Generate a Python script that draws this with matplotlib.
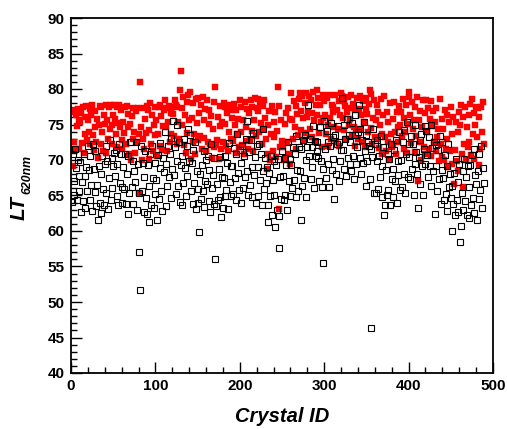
import numpy as np
import matplotlib
matplotlib.use("Agg")
import matplotlib.pyplot as plt
from matplotlib.ticker import MultipleLocator

# LT at 620 nm, red filled squares (upper series)
red_lt = [
    77.0, 69.2, 72.5, 71.4, 76.8, 76.3, 74.8, 77.2, 75.6, 71.5,
    75.3, 76.6, 72.4, 77.4, 71.0, 76.0, 73.7, 77.6, 72.8, 75.6,
    74.0, 77.2, 72.2, 76.3, 77.8, 73.5, 71.4, 76.9, 74.6, 72.6,
    75.8, 70.3, 74.9, 77.6, 72.3, 77.5, 73.9, 71.2, 76.3, 75.1,
    77.8, 71.0, 75.6, 73.0, 77.5, 74.3, 77.8, 75.0, 72.2, 76.4,
    77.8, 75.8, 73.6, 77.4, 71.9, 75.2, 77.7, 74.6, 77.0, 72.8,
    71.5, 75.3, 73.8, 77.4, 72.2, 77.6, 74.7, 76.5, 70.9, 75.1,
    70.0, 76.2, 72.9, 77.3, 74.0, 71.0, 76.9, 72.5, 77.3, 73.6,
    65.4, 81.0, 74.7, 70.0, 72.9, 77.3, 71.5, 75.8, 73.8, 77.6,
    77.0, 70.2, 74.2, 78.0, 72.2, 76.4, 71.2, 75.0, 77.4, 73.5,
    75.6, 70.5, 73.6, 77.4, 72.0, 77.8, 76.2, 71.4, 74.8, 77.0,
    78.5, 74.6, 77.3, 71.2, 75.4, 77.6, 72.6, 76.6, 73.7, 77.4,
    76.5, 73.4, 78.5, 77.8, 72.3, 77.4, 75.3, 73.0, 79.8, 82.6,
    77.3, 74.9, 78.9, 72.1, 76.4, 71.0, 78.2, 73.8, 79.2, 75.6,
    79.6, 70.2, 75.9, 72.6, 78.0, 73.6, 70.9, 78.6, 75.2, 72.8,
    78.7, 76.6, 73.4, 77.7, 71.6, 78.9, 75.6, 73.1, 77.2, 71.3,
    78.4, 72.6, 75.1, 77.0, 72.3, 76.2, 70.3, 74.4, 78.2, 71.9,
    80.3, 72.1, 72.8, 76.0, 70.1, 74.8, 77.6, 71.5, 75.4, 72.6,
    78.0, 75.1, 77.5, 72.0, 76.6, 71.2, 73.9, 77.8, 72.9, 77.1,
    75.9, 72.7, 77.9, 74.9, 71.0, 77.0, 73.7, 75.8, 71.9, 78.4,
    74.0, 77.4, 72.1, 75.6, 70.9, 78.1, 74.7, 72.7, 77.2, 71.6,
    76.6, 72.8, 78.4, 74.1, 77.5, 71.3, 75.6, 78.7, 73.4, 77.3,
    76.9, 78.6, 74.0, 78.0, 75.2, 72.2, 77.6, 74.4, 78.5, 75.9,
    72.9, 68.8, 75.0, 70.8, 76.9, 70.0, 73.7, 77.6, 71.2, 75.3,
    73.2, 76.8, 70.4, 74.1, 80.3, 77.6, 63.1, 71.9, 75.6, 72.7,
    71.9, 70.0, 75.1, 70.2, 76.6, 72.6, 77.3, 70.9, 75.8, 69.5,
    79.5, 75.6, 73.0, 78.3, 74.6, 77.6, 71.6, 76.5, 73.5, 78.6,
    79.5, 76.9, 74.2, 79.0, 75.9, 72.8, 78.0, 73.8, 79.4, 76.1,
    76.8, 79.0, 74.4, 78.4, 73.2, 76.6, 79.6, 75.6, 72.5, 77.8,
    79.9, 76.4, 78.8, 73.8, 77.7, 75.3, 71.8, 79.2, 75.9, 78.3,
    76.3, 73.6, 78.8, 74.9, 72.0, 79.2, 75.9, 73.0, 77.7, 76.8,
    77.4, 74.6, 79.1, 72.6, 77.1, 74.3, 78.3, 72.0, 76.3, 79.4,
    79.0, 75.9, 78.3, 74.2, 77.6, 73.0, 76.8, 78.9, 74.9, 77.3,
    75.8, 79.2, 73.5, 77.9, 74.7, 72.0, 77.0, 74.2, 78.7, 73.0,
    77.2, 74.3, 79.0, 76.4, 72.6, 78.3, 75.3, 71.8, 77.2, 78.8,
    76.5, 73.9, 77.9, 79.8, 74.5, 79.3, 72.3, 75.9, 78.4, 73.3,
    75.7, 77.8, 73.0, 76.8, 71.7, 75.0, 78.6, 73.6, 70.9, 76.3,
    79.0, 73.2, 71.2, 76.8, 72.6, 75.4, 70.0, 78.0, 73.6, 71.8,
    75.8, 72.3, 78.1, 74.0, 70.8, 76.8, 74.7, 72.6, 77.6, 75.0,
    76.8, 73.4, 78.6, 71.5, 75.9, 74.0, 77.8, 71.0, 75.1, 78.9,
    79.6, 76.4, 72.4, 78.1, 74.3, 75.6, 71.1, 77.4, 73.4, 78.9,
    67.0, 75.6, 72.6, 76.9, 70.0, 74.6, 78.5, 71.8, 76.6, 70.8,
    78.5, 73.9, 77.3, 71.6, 75.8, 70.6, 78.3, 74.8, 76.9, 72.6,
    75.3, 71.2, 77.3, 73.2, 74.3, 69.8, 78.6, 72.3, 75.8, 70.4,
    74.3, 70.0, 77.0, 71.6, 72.9, 76.4, 69.0, 75.3, 71.2, 77.4,
    73.6, 69.5, 76.0, 66.6, 71.4, 75.3, 69.8, 74.0, 68.5, 76.7,
    75.0, 77.8, 70.9, 66.2, 76.0, 72.3, 77.5, 70.0, 74.6, 71.8,
    76.3, 72.6, 77.9, 70.7, 78.6, 73.6, 76.6, 70.2, 74.9, 77.4,
    73.3, 77.3, 69.3, 76.1, 71.6, 77.5, 74.0, 78.2, 72.3,
]

# LT at 620 nm, black open squares (lower series)
black_lt = [
    64.1, 70.8, 67.0, 65.0, 71.6, 68.9, 64.3, 70.0, 67.7, 65.6,
    69.7, 62.7, 66.9, 64.2, 70.9, 67.8, 63.3, 69.0, 65.7, 72.0,
    68.6, 64.3, 70.6, 66.5, 62.8, 72.3, 68.7, 65.5, 71.3, 63.5,
    66.5, 61.5, 69.2, 63.9, 68.0, 62.6, 70.5, 65.9, 63.7, 69.4,
    72.0, 65.4, 69.9, 63.1, 67.4, 72.8, 64.4, 70.3, 66.0, 69.2,
    71.0, 67.7, 71.4, 64.9, 69.5, 63.6, 72.2, 66.8, 70.8, 66.2,
    64.0, 69.0, 65.9, 70.9, 63.8, 68.0, 62.4, 70.6, 65.3, 72.5,
    72.5, 66.2, 69.9, 63.8, 68.5, 66.9, 72.6, 62.9, 69.4, 65.4,
    57.0, 51.7, 72.0, 65.6, 69.6, 62.7, 67.6, 71.3, 64.6, 62.4,
    69.3, 61.2, 66.4, 70.8, 63.6, 72.0, 67.5, 63.3, 69.6, 65.2,
    67.2, 61.5, 70.7, 64.5, 68.9, 72.4, 65.6, 62.8, 70.3, 68.3,
    74.0, 63.5, 69.4, 66.4, 72.0, 67.6, 70.9, 64.6, 73.1, 68.8,
    75.5, 67.9, 71.9, 65.2, 69.9, 74.9, 66.4, 72.6, 64.1, 69.3,
    63.7, 70.5, 66.8, 72.9, 68.9, 64.9, 72.0, 67.7, 74.3, 69.9,
    73.5, 65.6, 69.6, 63.8, 71.4, 66.7, 72.6, 63.1, 68.5, 65.9,
    64.0, 59.9, 68.0, 64.5, 69.3, 65.6, 71.3, 63.4, 67.1, 70.0,
    66.6, 70.6, 64.2, 68.6, 62.7, 72.2, 66.0, 67.9, 63.8, 70.3,
    56.1, 63.5, 66.6, 64.3, 68.7, 64.8, 70.4, 62.0, 67.6, 63.2,
    67.5, 64.9, 70.5, 65.8, 69.6, 63.1, 72.4, 66.9, 64.9, 69.1,
    69.1, 65.2, 71.7, 67.4, 70.9, 64.4, 73.6, 68.1, 65.8, 71.4,
    69.6, 64.0, 72.0, 66.0, 70.6, 67.6, 72.9, 75.5, 68.4, 65.0,
    71.1, 66.5, 72.8, 64.8, 69.0, 73.8, 67.9, 70.4, 63.9, 72.0,
    69.0, 64.9, 72.2, 67.2, 70.8, 63.6, 74.3, 68.4, 65.9, 70.3,
    66.7, 69.0, 61.2, 63.6, 68.1, 64.9, 70.6, 62.2, 67.2, 69.8,
    65.0, 60.6, 69.3, 62.9, 70.2, 62.1, 57.6, 67.6, 64.5, 71.2,
    67.8, 64.3, 70.3, 65.0, 69.3, 62.9, 72.6, 67.0, 64.9, 70.1,
    69.3, 66.0, 71.9, 67.2, 70.9, 64.8, 73.4, 68.6, 65.6, 71.8,
    68.5, 61.5, 71.5, 66.4, 72.8, 67.4, 73.5, 64.8, 70.0, 71.9,
    77.8, 70.5, 73.0, 67.3, 71.9, 69.0, 74.8, 66.0, 72.7, 70.6,
    72.5, 71.3, 70.3, 67.0, 74.6, 69.8, 66.2, 55.5, 68.8, 75.5,
    71.5, 67.5, 74.1, 69.5, 72.5, 66.2, 72.0, 75.2, 68.6, 73.2,
    70.2, 64.5, 73.5, 68.0, 72.2, 74.8, 67.0, 72.5, 69.8, 71.4,
    78.8, 71.4, 74.9, 68.7, 72.9, 67.8, 75.8, 70.3, 73.5, 69.4,
    72.5, 68.5, 75.2, 70.6, 67.3, 73.5, 76.3, 69.4, 71.9, 74.0,
    77.7, 70.3, 74.3, 68.0, 72.8, 69.6, 75.4, 71.3, 66.4, 73.5,
    69.8, 72.6, 72.0, 67.3, 71.5, 46.3, 70.4, 74.4, 65.3, 72.2,
    65.3, 69.8, 72.8, 65.9, 70.6, 67.6, 73.4, 64.8, 69.2, 71.9,
    62.3, 63.6, 68.6, 65.0, 70.8, 65.8, 70.1, 63.7, 72.3, 67.3,
    68.8, 64.8, 71.4, 67.1, 72.8, 63.9, 69.8, 67.9, 74.0, 65.8,
    70.0, 66.2, 72.5, 68.0, 74.2, 65.3, 70.8, 75.4, 67.6, 72.3,
    70.4, 67.3, 73.4, 68.8, 72.3, 65.0, 74.9, 69.4, 71.1, 68.0,
    63.2, 70.4, 72.8, 66.6, 73.6, 69.2, 65.1, 71.6, 69.4, 74.8,
    74.1, 70.7, 67.6, 73.3, 69.2, 74.9, 66.4, 71.7, 68.4, 72.6,
    62.4, 69.2, 72.1, 65.6, 71.4, 67.3, 73.4, 63.8, 68.6, 72.6,
    67.5, 64.3, 70.7, 65.2, 69.2, 62.8, 72.3, 66.2, 68.0, 64.6,
    60.0, 66.4, 63.8, 68.2, 62.3, 70.1, 64.3, 66.9, 62.7, 69.4,
    58.5, 60.7, 65.3, 68.5, 63.0, 70.1, 64.2, 67.6, 62.2, 69.2,
    61.8, 66.2, 69.3, 63.6, 70.7, 64.6, 71.6, 62.5, 67.9, 66.6,
    61.6, 68.4, 64.5, 70.8, 65.8, 72.0, 63.2, 68.9, 66.7,
]

crystal_id = np.arange(1, len(red_lt) + 1)
x_label = "Crystal ID"
y_label_main = "LT"
y_label_sub = "620nm"

W, H = 507, 429
fig = plt.figure(figsize=(W / 100, H / 100), dpi=100)
fig.patch.set_facecolor("white")
ax = fig.add_axes([71 / W, 1 - 373 / H, (493 - 71) / W, (373 - 18) / H])

ax.plot(crystal_id, red_lt, linestyle="none", marker="s", ms=4.0,
        mfc="#ff0000", mec="#ff0000", mew=0.3, zorder=2)
ax.plot(crystal_id, black_lt, linestyle="none", marker="s", ms=4.1,
        mfc="none", mec="black", mew=0.8, zorder=3)

ax.set_xlim(0, 500)
ax.set_ylim(40, 90)
ax.xaxis.set_major_locator(MultipleLocator(100))
ax.xaxis.set_minor_locator(MultipleLocator(20))
ax.yaxis.set_major_locator(MultipleLocator(5))
ax.yaxis.set_minor_locator(MultipleLocator(1))

ax.tick_params(which="both", direction="in", top=False, right=False, width=1.0)
ax.tick_params(which="major", length=8)
ax.tick_params(which="minor", length=4.5)
ax.tick_params(axis="y", pad=4.5)
ax.tick_params(axis="x", pad=4.5)
for lab in ax.get_xticklabels() + ax.get_yticklabels():
    lab.set_fontfamily(["Liberation Sans", "DejaVu Sans"])
    lab.set_fontweight("bold")
    lab.set_fontsize(11)
for sp in ax.spines.values():
    sp.set_linewidth(1.3)

fig.text(282.5 / W, 1 - 417 / H, x_label,
         ha="center", va="center", fontsize=14.5, fontweight="bold",
         fontstyle="italic", family=["Liberation Sans", "DejaVu Sans"])
fig.text(19.5 / W, 1 - 208.5 / H, y_label_main, rotation=90,
         ha="center", va="center", fontsize=15, fontweight="bold",
         fontstyle="italic", family=["Liberation Sans", "DejaVu Sans"])
fig.text(27 / W, 1 - 174 / H, y_label_sub, rotation=90,
         ha="center", va="center", fontsize=8.8, fontweight="bold",
         fontstyle="italic", family=["Liberation Sans", "DejaVu Sans"])

fig.savefig("out.png", dpi=100)
